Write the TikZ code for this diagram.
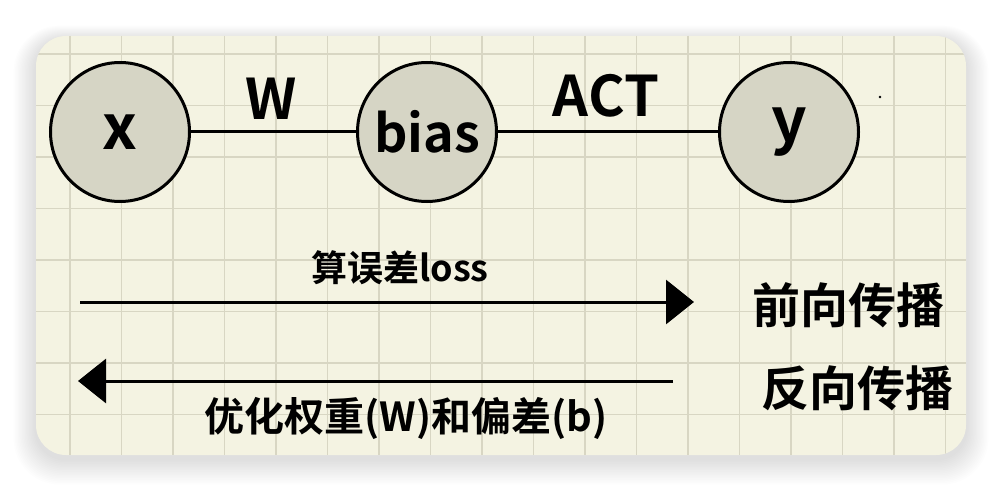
\documentclass[tikz,border=0pt]{standalone}
\usepackage{fontspec}
\setmainfont{Noto Sans CJK SC}[BoldFont={Noto Sans CJK SC Bold}]
\usetikzlibrary{arrows.meta}
\definecolor{paper}{HTML}{F4F3E2}
\definecolor{gridc}{HTML}{D8D6C3}
\definecolor{nodefill}{HTML}{D6D5C5}
\tikzset{
  neuron/.style={circle, draw=black, line width=3pt, fill=nodefill, minimum size=139pt, inner sep=0pt},
  wire/.style={line width=3pt, black},
  flow/.style={line width=3pt, black, -{Triangle[length=28pt,width=44pt]}},
  lbl/.style={font=\fontsize{56}{56}\selectfont\bfseries, inner sep=0pt},
  cjk/.style={font=\fontsize{48}{48}\selectfont\bfseries, inner sep=0pt},
  cjkmid/.style={font=\fontsize{36}{36}\selectfont\bfseries, inner sep=0pt},
}
\begin{document}
\begin{tikzpicture}[x=1pt,y=-1pt]
\useasboundingbox (0,0) rectangle (1002,492);
\fill[white] (0,0) rectangle (1002,492);
% soft shadow
\foreach \i in {1,...,16}{
  \fill[black, opacity=0.009, rounded corners=30pt+\i pt] (36-\i*1.4,36-\i*0.9+4) rectangle (966+\i*1.4,455+\i*1.6+4);
}
% card
\fill[paper, rounded corners=30pt] (36,36) rectangle (966,455);
\begin{scope}
  \clip[rounded corners=30pt] (36,36) rectangle (966,455);
  \foreach \k in {0,...,17}{
    \draw[gridc, line width=1.2pt] (70+\k*51.5,36) -- (70+\k*51.5,455);
  }
  \foreach \k in {0,...,7}{
    \draw[gridc, line width=1.2pt] (36,54+\k*51.5) -- (966,54+\k*51.5);
  }
\end{scope}
% network
\node[neuron, font=\fontsize{62}{62}\selectfont\bfseries] (x) at (120,132) {x};
\node[neuron, font=\fontsize{52}{52}\selectfont\bfseries] (b) at (427,132) {bias};
\node[neuron, font=\fontsize{62}{62}\selectfont\bfseries] (y) at (789,132) {y};
\draw[wire] (x) -- (b);
\draw[wire] (b) -- (y);
\node[lbl] (w) at (271,99) {W};
\node[lbl] (act) at (606,96) {ACT};
\fill (880,97) circle (1.3pt);
% flows
\coordinate (f1) at (80,302);
\coordinate (f2) at (694,302);
\coordinate (b1) at (673,381);
\coordinate (b2) at (78,381);
\draw[flow] (f1) -- (f2);
\draw[flow] (b1) -- (b2);
\node[cjkmid] (loss) at (400,268) {算误差loss};
\node[cjk] (fwd) at (848,305) {前向传播};
\node[cjk] (bwd) at (857,388) {反向传播};
\node[cjkmid, font=\fontsize{40}{40}\selectfont\bfseries] (opt) at (406,418) {优化权重(W)和偏差(b)};
\end{tikzpicture}
\end{document}
